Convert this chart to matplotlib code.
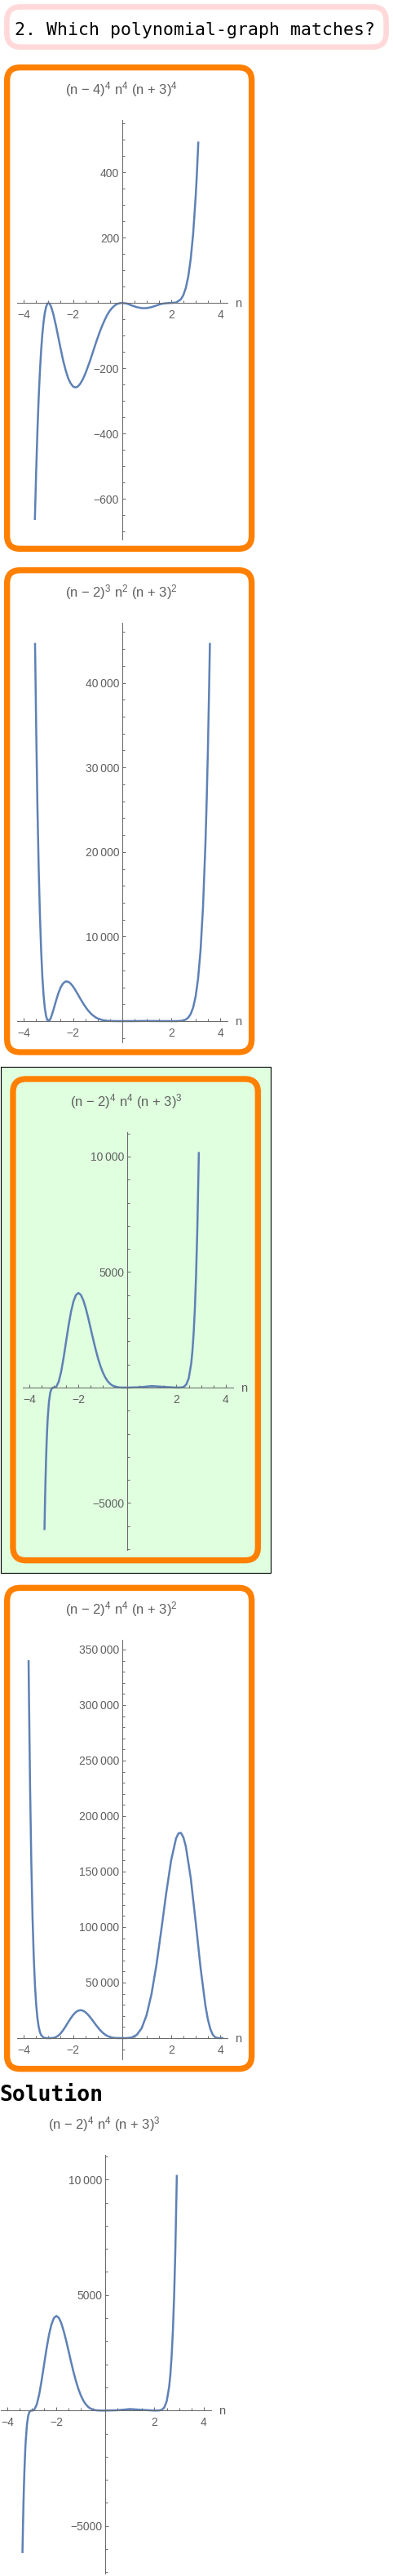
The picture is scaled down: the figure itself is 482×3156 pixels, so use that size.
import matplotlib
matplotlib.use('Agg')
import matplotlib.pyplot as plt
from matplotlib.patches import FancyBboxPatch, Rectangle
from matplotlib.ticker import FixedLocator, MultipleLocator, FuncFormatter

plt.rcParams['font.family'] = ['Liberation Sans', 'DejaVu Sans']
plt.rcParams['mathtext.fontset'] = 'custom'
plt.rcParams['mathtext.rm'] = 'Liberation Sans'
plt.rcParams['mathtext.default'] = 'regular'

# ---- data ----
header = "2. Which polynomial-graph matches?"
solution_label = "Solution"

titles = [
    "(n \u2212 4)$^{4}$ n$^{4}$ (n + 3)$^{4}$",
    "(n \u2212 2)$^{3}$ n$^{2}$ (n + 3)$^{2}$",
    "(n \u2212 2)$^{4}$ n$^{4}$ (n + 3)$^{3}$",
    "(n \u2212 2)$^{4}$ n$^{4}$ (n + 3)$^{2}$",
]
solution_title = "(n \u2212 2)$^{4}$ n$^{4}$ (n + 3)$^{3}$"

x_ticks = [-4, -2, 2, 4]
y_ticks1 = [-600, -400, -200, 200, 400]
y_ticks2 = [10000, 20000, 30000, 40000]
y_ticks3 = [-5000, 5000, 10000]
y_ticks4 = [50000, 100000, 150000, 200000, 250000, 300000, 350000]

n1 = [-3.555, -3.5, -3.45, -3.4, -3.35, -3.3, -3.25, -3.2, -3.15, -3.1, -3.05,
      -3.0, -2.95, -2.9, -2.8, -2.7, -2.6, -2.5, -2.4, -2.3, -2.2, -2.1, -2.0,
      -1.9, -1.8, -1.7, -1.6, -1.5, -1.4, -1.3, -1.2, -1.1, -1.0, -0.9, -0.8,
      -0.7, -0.6, -0.5, -0.4, -0.3, -0.2, -0.1, 0.0, 0.2, 0.4, 0.6, 0.8, 1.0,
      1.2, 1.4, 1.6, 1.8, 2.0, 2.2, 2.4, 2.5, 2.6, 2.7, 2.8, 2.9, 3.0, 3.05, 3.11]
y1 = [-665, -510, -390, -291, -211, -146, -96, -58, -31, -13, -3,
      0, -3, -10, -35, -68, -105, -142, -177, -206, -230, -246, -256,
      -259, -256, -247, -234, -217, -197, -176, -153, -130, -108, -87, -68,
      -51, -36, -24, -15, -8, -3, -1, 0, -2, -8, -13, -16, -16,
      -13, -8, -3, -1, 0, 1, 11, 24, 46, 81, 135, 213, 324, 394, 494]

n2 = [-3.548, -3.5, -3.45, -3.4, -3.35, -3.3, -3.25, -3.2, -3.15, -3.1, -3.05,
      -3.0, -2.95, -2.9, -2.8, -2.7, -2.6, -2.5, -2.4, -2.3, -2.2, -2.1, -2.0,
      -1.9, -1.8, -1.7, -1.6, -1.5, -1.4, -1.3, -1.2, -1.1, -1.0, -0.8, -0.6,
      -0.4, -0.2, 0.0, 0.5, 1.0, 1.5, 2.0, 2.2, 2.4, 2.5, 2.6, 2.7, 2.8, 2.9,
      3.0, 3.1, 3.2, 3.3, 3.4, 3.45, 3.5, 3.55, 3.582]
y2 = [44720, 34330, 25310, 18180, 12640, 8420, 5300, 3070, 1560, 625, 141,
      0, 114, 408, 1305, 2334, 3274, 4005, 4477, 4688, 4665, 4451, 4096,
      3648, 3152, 2645, 2158, 1709, 1314, 979, 704, 488, 324, 122, 34,
      6, 0, 0, 4, 16, 6, 0, 1, 25, 74, 186, 415, 847, 1615,
      2916, 5031, 8357, 13443, 21029, 26054, 32097, 39440, 44720]

n3 = [-3.383, -3.36, -3.34, -3.32, -3.3, -3.27, -3.25, -3.2, -3.15, -3.1, -3.05,
      -3.0, -2.95, -2.9, -2.8, -2.7, -2.6, -2.5, -2.4, -2.3, -2.2, -2.1, -2.0,
      -1.9, -1.8, -1.7, -1.6, -1.5, -1.4, -1.3, -1.2, -1.1, -1.0, -0.9, -0.8,
      -0.7, -0.6, -0.5, -0.4, -0.3, -0.2, 0.0, 0.5, 1.0, 1.5, 2.0, 2.2, 2.3,
      2.4, 2.5, 2.6, 2.65, 2.7, 2.75, 2.8, 2.85, 2.9, 2.911]
y3 = [-6170, -4908, -3977, -3189, -2527, -1736, -1324, -613, -234, -62, -7,
      0, 6, 41, 261, 700, 1310, 2002, 2686, 3281, 3732, 4007, 4096,
      4013, 3783, 3438, 3021, 2564, 2103, 1664, 1268, 927, 648, 430, 268,
      155, 82, 38, 15, 5, 1, 0, 14, 64, 29, 0, 5, 34,
      134, 406, 1040, 1588, 2363, 3440, 4913, 6895, 9532, 10200]

n4 = [-3.8115, -3.8, -3.75, -3.7, -3.65, -3.6, -3.55, -3.5, -3.45, -3.4, -3.35,
      -3.3, -3.2, -3.1, -3.0, -2.9, -2.8, -2.7, -2.6, -2.5, -2.4, -2.3, -2.2,
      -2.1, -2.0, -1.9, -1.8, -1.7, -1.6, -1.5, -1.4, -1.3, -1.2, -1.1, -1.0,
      -0.9, -0.8, -0.7, -0.6, -0.5, -0.4, -0.3, -0.2, 0.0, 0.2, 0.4, 0.6, 0.8,
      1.0, 1.2, 1.4, 1.6, 1.8, 2.0, 2.2, 2.3, 2.4, 2.5, 2.6, 2.8, 3.0, 3.2,
      3.4, 3.5, 3.6, 3.7, 3.8, 3.9, 4.0, 4.1, 4.13]
y4 = [340400, 316100, 225700, 158200, 108500, 72620, 47230, 29680, 17900, 10260, 5516,
      2728, 451, 24, 0, 16, 210, 867, 2220, 4358, 7214, 10585, 14178,
      17667, 20736, 23120, 24634, 25180, 24760, 23452, 21408, 18822, 15916, 12908, 10000,
      7356, 5094, 3279, 1925, 1001, 438, 147, 31, 0, 35, 575, 2909, 8956,
      20736, 39660, 65800, 97355, 130539, 160000, 179804, 184419, 184883, 180957, 172648, 144233, 104976, 63465,
      29056, 16741, 8159, 3059, 713, 52, 0, 72, 214]

# ---- layout (pixels) ----
W, H = 482, 3156
ORANGE = '#ff8000'
PINK = '#ffd9d9'
GREEN = '#dfffdf'
CURVE = '#5e81b5'
AXIS = '#6b6b6b'
LABEL = '#5f5f5f'
X_LIM = (-4.28, 4.30)
X_SCALE = 30.08  # px per unit

fig = plt.figure(figsize=(W / 100, H / 100), dpi=100)
bg = fig.add_axes([0, 0, 1, 1])
bg.set_xlim(0, W)
bg.set_ylim(H, 0)
bg.axis('off')


def rbox(x0, y0, x1, y1, color, lw, face='none', r=16):
    bg.add_patch(FancyBboxPatch((x0, y0), x1 - x0, y1 - y0,
                                boxstyle=f'round,pad=0,rounding_size={r}',
                                ec=color, fc=face, lw=lw))


# header
rbox(8.4, 8.4, 473.6, 57.6, PINK, 4.8, face='white', r=17)
bg.text(18.5, 42.7, header, fontsize=15.5, family='DejaVu Sans Mono',
        color='black', va='baseline', ha='left')

# green highlight behind the correct answer
bg.add_patch(Rectangle((0.5, 1307.2), 331, 620, fc=GREEN, ec='black', lw=0.8))

# orange frames
rbox(8.65, 82.65, 308.65, 672.35, ORANGE, 5.3, face='white')
rbox(8.65, 698.65, 308.65, 1289.05, ORANGE, 5.3, face='white')
rbox(15.95, 1321.95, 316.35, 1911.65, ORANGE, 5.3, face=GREEN)
rbox(8.65, 1945.35, 308.65, 2534.65, ORANGE, 5.3, face='white')

bg.text(-0.5, 2574.3, solution_label, fontsize=19, family='DejaVu Sans Mono',
        weight='bold', color='black', va='baseline', ha='left')


def fmt(v, pos=None):
    v = int(round(v))
    a = abs(v)
    s = f"{a:,}".replace(",", "\u2009") if a >= 10000 else str(a)
    return ("\u2212" if v < 0 else "") + s


def panel(x_zero, top, bottom, ylim, yticks, yminor, xs, ys, title):
    left = x_zero + X_LIM[0] * X_SCALE
    right = x_zero + X_LIM[1] * X_SCALE
    ax = fig.add_axes([left / W, 1 - bottom / H, (right - left) / W, (bottom - top) / H])
    ax.patch.set_alpha(0)
    ax.set_xlim(X_LIM)
    ax.set_ylim(ylim)
    for s in ('top', 'right'):
        ax.spines[s].set_visible(False)
    for s in ('left', 'bottom'):
        ax.spines[s].set_position(('data', 0))
        ax.spines[s].set_color(AXIS)
        ax.spines[s].set_linewidth(0.75)
    ax.xaxis.set_major_locator(FixedLocator(x_ticks))
    ax.xaxis.set_minor_locator(MultipleLocator(0.5))
    ax.yaxis.set_major_locator(FixedLocator(yticks))
    ax.yaxis.set_minor_locator(MultipleLocator(yminor))
    ax.xaxis.set_major_formatter(FuncFormatter(fmt))
    ax.yaxis.set_major_formatter(FuncFormatter(fmt))
    ax.tick_params(which='both', direction='in', color=AXIS, width=0.75,
                   labelcolor=LABEL, labelsize=10)
    ax.tick_params(which='major', length=3.1)
    ax.tick_params(which='minor', length=1.9)
    ax.tick_params(axis='x', pad=5.5)
    ax.tick_params(axis='y', pad=2.5)
    ax.plot(xs, ys, color=CURVE, lw=1.8, solid_capstyle='butt', solid_joinstyle='round')
    ax.annotate('n', xy=(1, 0), xycoords=('axes fraction', 'data'),
                xytext=(6.5, -3.3), textcoords='offset points',
                ha='left', va='baseline', fontsize=10.5, color=LABEL)
    bg.text(x_zero - 1, top - 31.7, title, ha='center', va='baseline',
            fontsize=12, color=LABEL)
    return ax


panel(149.7, 146.7, 660.7, (-724, 561), y_ticks1, 50, n1, y1, titles[0])
panel(149.7, 763.3, 1276.7, (-2480, 47075), y_ticks2, 2000, n2, y2, titles[1])
panel(156.3, 1386.7, 1899.3, (-7043, 11070), y_ticks3, 1000, n3, y3, titles[2])
panel(149.7, 2009.3, 2522.7, (-18900, 358600), y_ticks4, 10000, n4, y4, titles[3])
panel(129.3, 2640.0, 3152.6, (-7043, 11070), y_ticks3, 1000, n3, y3, solution_title)

fig.savefig('out.png', dpi=100)
